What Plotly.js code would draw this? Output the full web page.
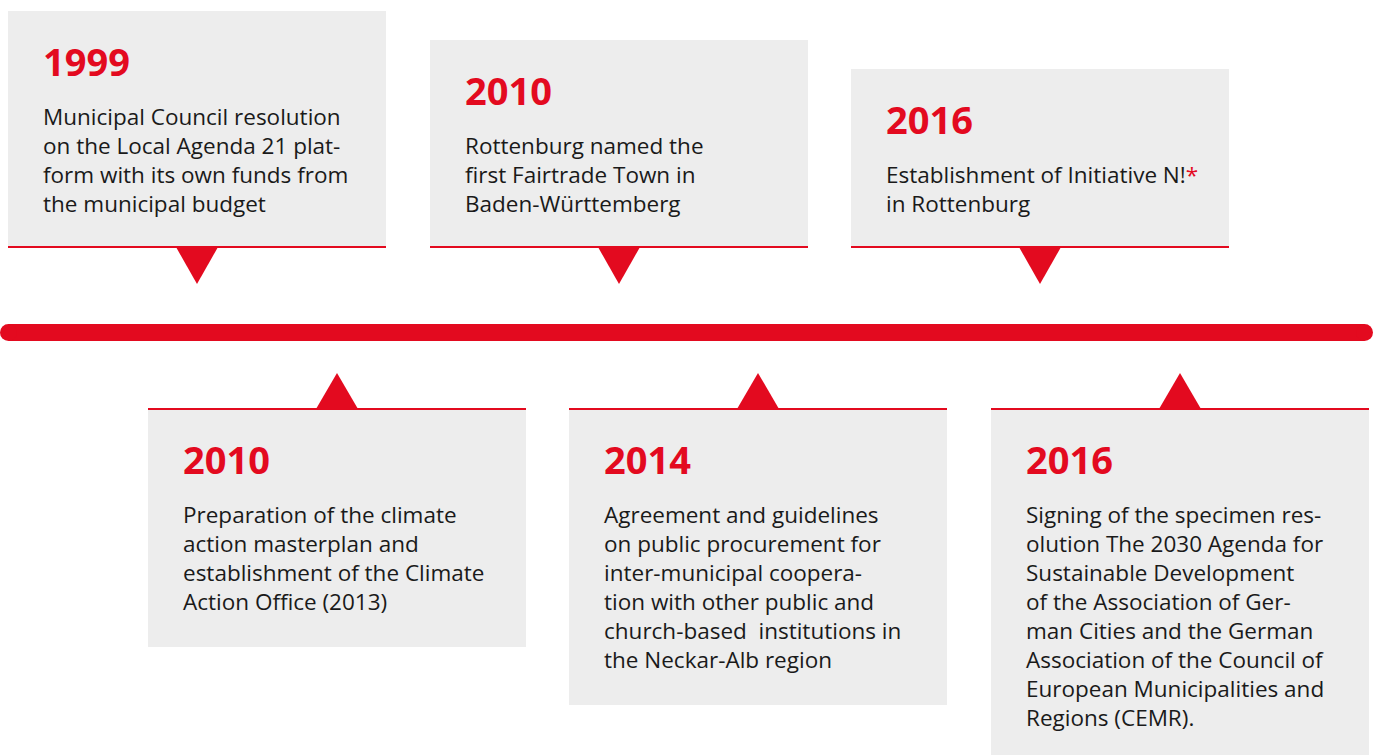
<!DOCTYPE html>
<html>
<head>
<meta charset="utf-8">
<script src="https://cdn.plot.ly/plotly-3.0.1.min.js"></script>
<style>html,body{margin:0;padding:0;background:#fff;}#chart{width:1375px;height:755px;}</style>
</head>
<body>
<div id="chart"></div>
<script>
// ---- data ----
const topYears = ['1999', '2010', '2016'];
const topTexts = [
  ['Municipal Council resolution', 'on the Local Agenda 21 plat-', 'form with its own funds from', 'the municipal budget'],
  ['Rottenburg named the', 'first Fairtrade Town in', 'Baden-Württemberg'],
  ['Establishment of Initiative N!<span style="color:#e30a1f">*</span>', 'in Rottenburg']
];
const bottomYears = ['2010', '2014', '2016'];
const bottomTexts = [
  ['Preparation of the climate', 'action masterplan and', 'establishment of the Climate', 'Action Office (2013)'],
  ['Agreement and guidelines', 'on public procurement for', 'inter-municipal coopera-', 'tion with other public and', 'church-based  institutions in', 'the Neckar-Alb region'],
  ['Signing of the specimen res-', 'olution The 2030 Agenda for', 'Sustainable Development', 'of the Association of Ger-', 'man Cities and the German', 'Association of the Council of', 'European Municipalities and', 'Regions (CEMR).']
];

// ---- layout constants ----
const RED = '#e30a1f', GREY = '#ededed', INK = '#1a1a1a';
const W = 1375, H = 755;
const topLeft = [8, 430, 851];
const bottomLeft = [148, 569, 991];
const boxW = 378;
const topEdge = 247, bottomEdge = 409;
const lineH = 29;
const barY0 = 324, barY1 = 341, barX0 = 0, barX1 = 1373;
const FONT = '"Open Sans", sans-serif';

const shapes = [];
const annotations = [];

function addEvent(left, year, lines, isTop) {
  const h = 120 + lineH * lines.length;
  const y0 = isTop ? topEdge - h : bottomEdge;
  const y1 = isTop ? topEdge : bottomEdge + h + 2;
  shapes.push({type: 'rect', xref: 'x', yref: 'y', x0: left, x1: left + boxW, y0: y0, y1: y1,
    fillcolor: GREY, line: {width: 0}, layer: 'below'});
  const edge = isTop ? topEdge : bottomEdge;
  shapes.push({type: 'rect', xref: 'x', yref: 'y', x0: left, x1: left + boxW, y0: edge - 1, y1: edge + 1,
    fillcolor: RED, line: {width: 0}});
  const cx = left + boxW / 2;
  const apex = isTop ? topEdge + 37 : bottomEdge - 36;
  shapes.push({type: 'path', xref: 'x', yref: 'y',
    path: `M ${cx - 21} ${edge} L ${cx + 21} ${edge} L ${cx} ${apex} Z`,
    fillcolor: RED, line: {width: 0}});
  const top = isTop ? y0 : bottomEdge;
  const tx = left + 33;
  annotations.push({x: tx, y: top + 50, xref: 'x', yref: 'y', xanchor: 'left', yanchor: 'middle',
    showarrow: false, text: '<b>' + year + '</b>',
    font: {family: FONT, size: 38, color: RED}});
  lines.forEach((ln, i) => {
    annotations.push({x: tx, y: top + 105 + i * lineH, xref: 'x', yref: 'y', xanchor: 'left', yanchor: 'middle',
      showarrow: false, text: ln,
      font: {family: FONT, size: 22.5, color: INK}});
  });
}

topYears.forEach((y, i) => addEvent(topLeft[i], y, topTexts[i], true));
bottomYears.forEach((y, i) => addEvent(bottomLeft[i], y, bottomTexts[i], false));

// timeline bar with rounded ends
const r = (barY1 - barY0) / 2;
shapes.push({type: 'rect', xref: 'x', yref: 'y', x0: barX0 + r, x1: barX1 - r, y0: barY0, y1: barY1,
  fillcolor: RED, line: {width: 0}});
shapes.push({type: 'circle', xref: 'x', yref: 'y', x0: barX0, x1: barX0 + 2 * r, y0: barY0, y1: barY1,
  fillcolor: RED, line: {width: 0}});
shapes.push({type: 'circle', xref: 'x', yref: 'y', x0: barX1 - 2 * r, x1: barX1, y0: barY0, y1: barY1,
  fillcolor: RED, line: {width: 0}});

const layout = {
  width: W, height: H,
  margin: {l: 0, r: 0, t: 0, b: 0, pad: 0},
  paper_bgcolor: '#fff', plot_bgcolor: '#fff',
  xaxis: {range: [0, W], visible: false, fixedrange: true},
  yaxis: {range: [H, 0], visible: false, fixedrange: true},
  showlegend: false,
  shapes: shapes,
  annotations: annotations
};

Plotly.newPlot('chart', [{x: [], y: [], type: 'scatter', mode: 'markers', hoverinfo: 'skip'}], layout,
  {displayModeBar: false, staticPlot: true});
</script>
</body>
</html>
